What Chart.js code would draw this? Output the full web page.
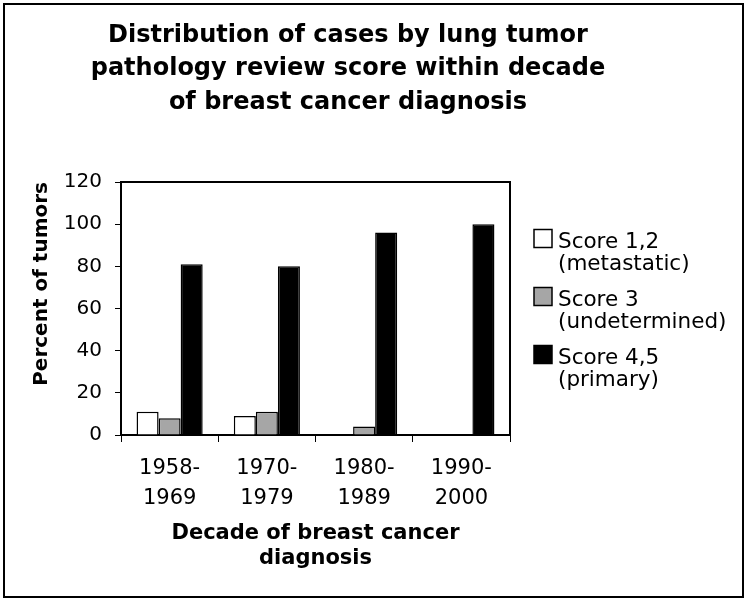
<!DOCTYPE html>
<html>
<head>
<meta charset="utf-8">
<script src="https://cdn.jsdelivr.net/npm/chart.js@4/dist/chart.umd.min.js"></script>
<style>
    html, body { margin: 0; padding: 0; background: #fff; }
    #wrap { position: relative; width: 749px; height: 602px; }
    #chart { position: absolute; left: 0; top: 0; }
    #frame { position: absolute; left: 3px; top: 3px; width: 737px; height: 591px; border: 2px solid #000; pointer-events: none; }
</style>
</head>
<body>
<div id="wrap">
    <canvas id="chart" width="749" height="602"></canvas>
    <div id="frame"></div>
</div>
<script>
// datos (porcentaje de tumores por decada)
const titleLines = ['Distribution of cases by lung tumor', 'pathology review score within decade', 'of breast cancer diagnosis'];
const decades = [['1958-', '1969'], ['1970-', '1979'], ['1980-', '1989'], ['1990-', '2000']];
const seriesNames = [['Score 1,2', '(metastatic)'], ['Score 3', '(undetermined)'], ['Score 4,5', '(primary)']];
const score12 = [11, 9, 0, 0];
const score3 = [8, 11, 4, 0];
const score45 = [81, 80, 96, 100];
const yMin = 0;
const yMax = 120;
const yStep = 20;
const xTitle = ['Decade of breast cancer', 'diagnosis'];
const yTitle = 'Percent of tumors';

const FONT = '"DejaVu Sans", Verdana, sans-serif';
Chart.defaults.font.family = FONT;
Chart.defaults.color = '#000';

// titulo, leyenda y borde superior/derecho del area de trazado
const sideText = {
    id: 'sideText',
    afterDatasetsDraw(chart) {
        const ctx = chart.ctx;
        const a = chart.chartArea;
        ctx.save();
        ctx.strokeStyle = '#000';
        ctx.lineWidth = 2;
        ctx.beginPath();
        ctx.moveTo(a.left, a.top);
        ctx.lineTo(a.right, a.top);
        ctx.lineTo(a.right, a.bottom);
        ctx.stroke();
        ctx.restore();
    },
    afterDraw(chart) {
        const ctx = chart.ctx;
        ctx.save();
        ctx.fillStyle = '#000';
        ctx.textBaseline = 'alphabetic';

        // titulo
        ctx.font = 'bold 24px ' + FONT;
        ctx.textAlign = 'center';
        titleLines.forEach((t, i) => ctx.fillText(t, 348, 42 + i * 33.3));

        // leyenda
        ctx.font = '21.5px ' + FONT;
        ctx.textAlign = 'left';
        chart.data.datasets.forEach((ds, i) => {
            const base = 247.5 + i * 58;
            ctx.fillStyle = ds.backgroundColor;
            ctx.fillRect(534, base - 18, 18, 18);
            ctx.strokeStyle = '#000';
            ctx.lineWidth = 1.5;
            ctx.strokeRect(534, base - 18, 18, 18);
            ctx.fillStyle = '#000';
            ds.label.forEach((line, j) => ctx.fillText(line, 558, base + j * 22.5));
        });
        ctx.restore();
    }
};

function makeDataset(label, data, color) {
    return {
        label: label,
        data: data,
        backgroundColor: color,
        borderColor: '#000',
        borderWidth: 1.5,
        borderSkipped: 'bottom',
        barPercentage: 1,
        categoryPercentage: 0.68
    };
}

new Chart(document.getElementById('chart'), {
    type: 'bar',
    data: {
        labels: decades,
        datasets: [
            makeDataset(seriesNames[0], score12, '#ffffff'),
            makeDataset(seriesNames[1], score3, '#a6a6a6'),
            makeDataset(seriesNames[2], score45, '#000000')
        ]
    },
    options: {
        responsive: false,
        animation: false,
        devicePixelRatio: 1,
        layout: { padding: { left: 26, right: 239, top: 182, bottom: 31 } },
        plugins: {
            legend: { display: false },
            title: { display: false },
            tooltip: { enabled: false }
        },
        scales: {
            x: {
                afterFit: s => { s.height = 136; },
                grid: { display: true, drawOnChartArea: false, drawTicks: true, tickLength: 7, color: '#000', lineWidth: 1, offset: true },
                border: { display: true, color: '#000', width: 2 },
                ticks: { font: { size: 21, lineHeight: 1.4 }, color: '#000', padding: 12, maxRotation: 0 },
                title: { display: true, text: xTitle, font: { size: 21, weight: 'bold', lineHeight: 1.19 }, color: '#000', padding: { top: 8, bottom: 0 } }
            },
            y: {
                min: yMin,
                max: yMax,
                afterFit: s => { s.width = 95; },
                grid: { display: true, drawOnChartArea: false, drawTicks: true, tickLength: 6, color: '#000', lineWidth: 1 },
                border: { display: true, color: '#000', width: 2 },
                ticks: { stepSize: yStep, font: { size: 20 }, color: '#000', padding: 13 },
                title: { display: true, text: yTitle, align: 'end', font: { size: 20, weight: 'bold', lineHeight: 1.2 }, color: '#000', padding: { top: 4, bottom: 10 } }
            }
        }
    },
    plugins: [sideText]
});
</script>
</body>
</html>
